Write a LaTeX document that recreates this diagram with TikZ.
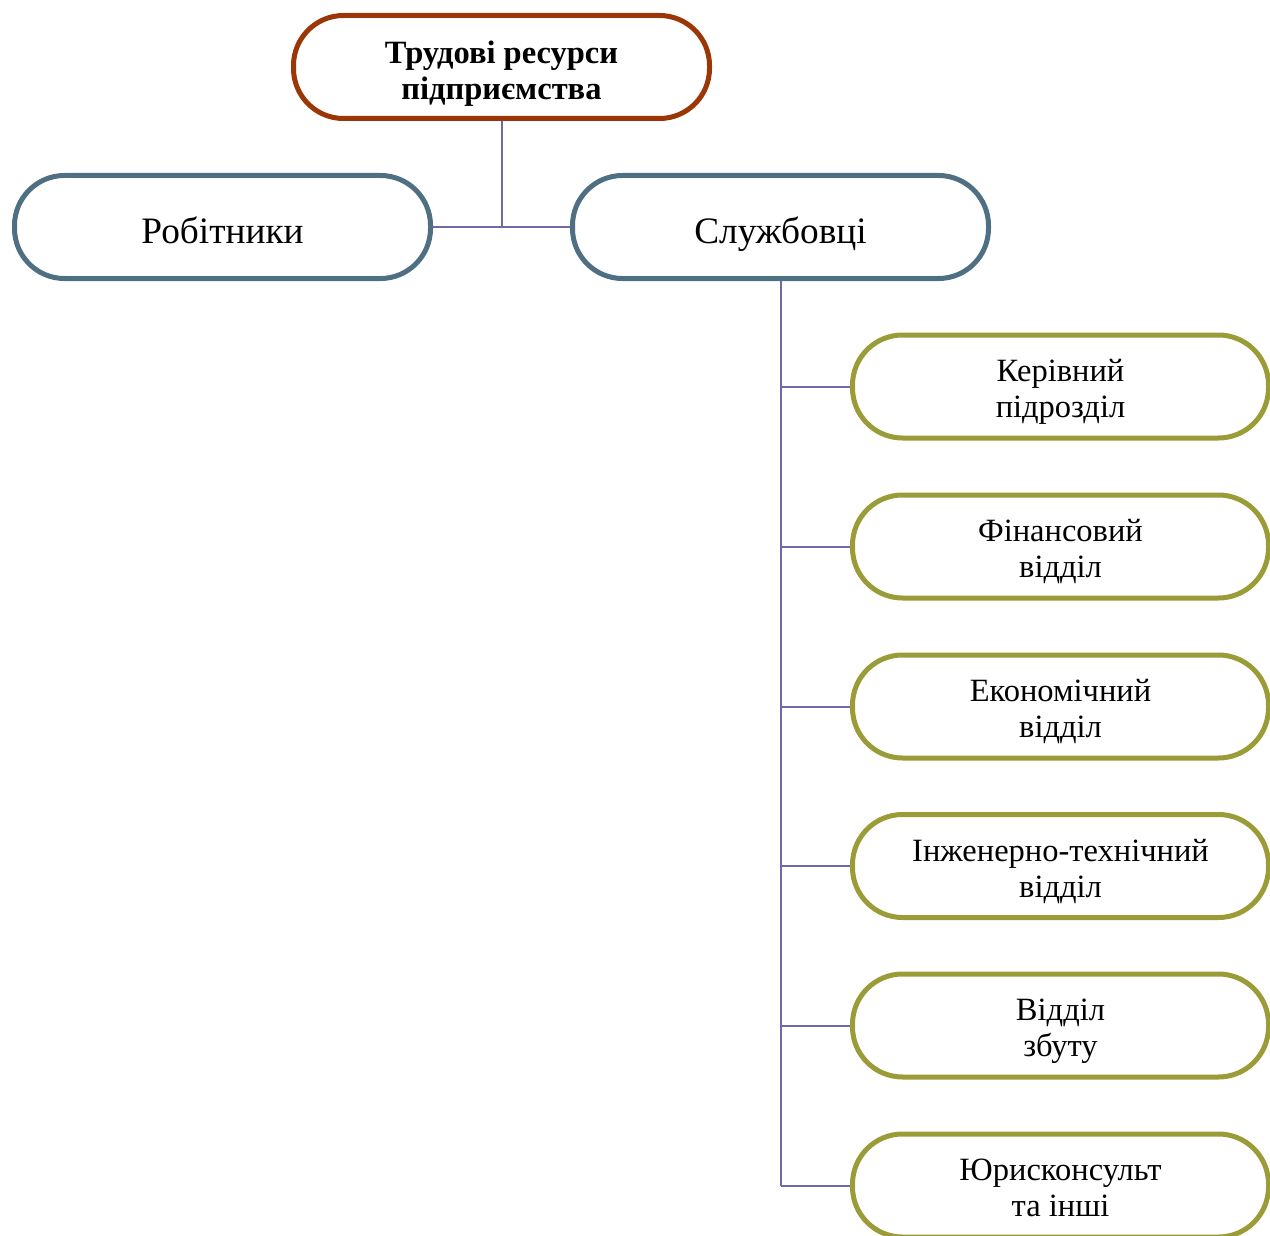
\documentclass[tikz,border=0pt]{standalone}
\usepackage{fontspec}
\setmainfont{Liberation Serif}
\definecolor{topc}{RGB}{155,54,6}
\definecolor{midc}{RGB}{79,111,130}
\definecolor{leafc}{RGB}{155,155,56}
\definecolor{linec}{RGB}{110,106,162}
\newcommand{\tx}[2][6pt]{\raisebox{-#1}[\height][\depth]{\begin{tabular}{@{}c@{}}#2\end{tabular}}}
\tikzset{
  pill/.style={draw, line width=5pt, rounded corners=50pt, fill=white,
    minimum width=416pt, minimum height=103pt, inner sep=0pt, align=center},
  topbox/.style={pill, draw=topc, font=\fontsize{32.5}{36.5}\selectfont\bfseries},
  midbox/.style={pill, draw=midc, font=\fontsize{37.3}{42}\selectfont},
  leafbox/.style={pill, draw=leafc, font=\fontsize{32.5}{36}\selectfont},
  conn/.style={draw=linec, line width=2pt}
}
\begin{document}
\begin{tikzpicture}[x=1pt,y=-1pt]
\useasboundingbox (0,0) rectangle (1270,1236);
\clip (0,0) rectangle (1270,1236);
\node[topbox] (top) at (501.5,67) {\tx[7pt]{Трудові ресурси\\підприємства}};
\node[midbox] (rob) at (222.5,227) {\tx[8.5pt]{Робітники}};
\node[midbox] (sl) at (780.5,227) {\tx[8.5pt]{Службовці}};
\node[leafbox] (l1) at (1060.5,386.5) {\tx{Керівний\\підрозділ}};
\node[leafbox] (l2) at (1060.5,546.5) {\tx{Фінансовий\\відділ}};
\node[leafbox] (l3) at (1060.5,706.5) {\tx{Економічний\\відділ}};
\node[leafbox] (l4) at (1060.5,866) {\tx{Інженерно-технічний\\відділ}};
\node[leafbox] (l5) at (1060.5,1025.5) {\tx{Відділ\\збуту}};
\node[leafbox] (l6) at (1060.5,1185.5) {\tx{Юрисконсульт\\та інші}};
\coordinate (j) at (top.south |- rob.east);
\draw[conn] (top.south) -- (j);
\draw[conn] (rob.east) -- (sl.west);
\coordinate (sb) at (sl.south |- l6.west);
\draw[conn] (sl.south) -- (sb);
\foreach \n in {l1,l2,l3,l4,l5,l6}{
  \draw[conn] (sl.south |- \n.west) -- (\n.west);
}
\end{tikzpicture}
\end{document}
